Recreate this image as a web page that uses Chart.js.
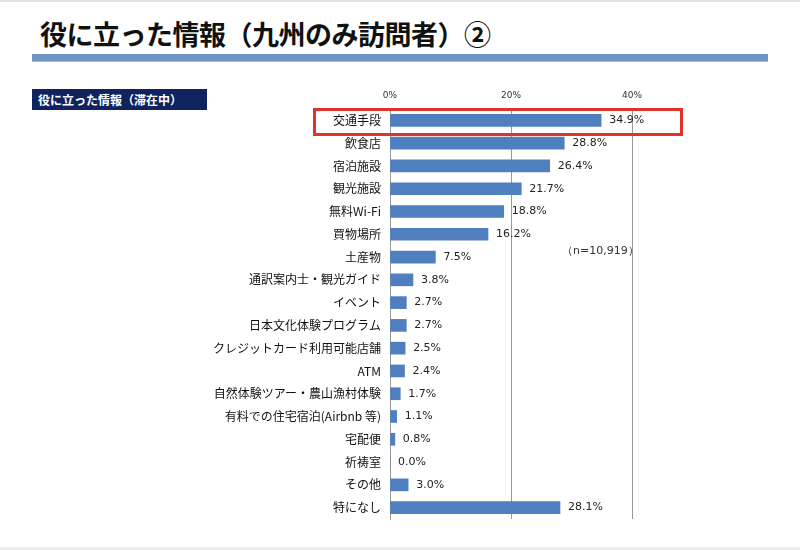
<!DOCTYPE html>
<html>
<head>
<meta charset="utf-8">
<script src="https://cdn.jsdelivr.net/npm/chart.js@4/dist/chart.umd.min.js"></script>
<style>
  body { margin: 0; background: #fff; font-family: "Noto Sans CJK JP", sans-serif; }
  #wrap { position: relative; width: 800px; height: 550px; overflow: hidden; border-top: 2px solid #e4e4e4; box-sizing: border-box; }
  #title { position: absolute; left: 40px; top: 12px; font-size: 27px; font-weight: bold; color: #111; letter-spacing: -0.5px; }
  #band { position: absolute; left: 32px; top: 52px; width: 736px; height: 7px; background: #6f96c8; border-bottom: 1px solid #9fb9db; }
  #sub { position: absolute; left: 32px; top: 87px; width: 175px; height: 21px; background: #10235f; color: #fff; font-size: 12px; font-weight: bold; line-height: 21px; padding-left: 6px; box-sizing: border-box; }
  #hl { position: absolute; left: 313px; top: 106px; width: 370px; height: 28px; border: 3px solid #e0332c; box-sizing: border-box; }
  #note { position: absolute; left: 562px; top: 241px; font-size: 11px; color: #333; font-family: "DejaVu Sans", sans-serif; }
  #foot { position: absolute; left: 0; top: 545px; width: 800px; height: 5px; background: #ececec; }
  canvas { position: absolute; left: 0; top: 0; }
</style>
</head>
<body>
<div id="wrap">
  <div id="title">役に立った情報（九州のみ訪問者）②</div>
  <div id="band"></div>
  <div id="sub">役に立った情報（滞在中）</div>
  <canvas id="myChart" width="800" height="548"></canvas>
  <div id="hl"></div>
  <div id="note">（n=10,919）</div>
  <div id="foot"></div>
</div>
<script>
var categories = ['交通手段', '飲食店', '宿泊施設', '観光施設', '無料Wi-Fi', '買物場所', '土産物',
  '通訳案内士・観光ガイド', 'イベント', '日本文化体験プログラム', 'クレジットカード利用可能店舗', 'ATM',
  '自然体験ツアー・農山漁村体験', '有料での住宅宿泊(Airbnb 等)', '宅配便', '祈祷室', 'その他', '特になし'];
var values = [34.9, 28.8, 26.4, 21.7, 18.8, 16.2, 7.5, 3.8, 2.7, 2.7, 2.5, 2.4, 1.7, 1.1, 0.8, 0.0, 3.0, 28.1];
var tickValues = [0, 20, 40];

var valueLabels = {
  id: 'valueLabels',
  afterDatasetsDraw: function(chart) {
    var ctx = chart.ctx;
    var meta = chart.getDatasetMeta(0);
    ctx.save();
    ctx.font = '11px "DejaVu Sans", sans-serif';
    ctx.fillStyle = '#222';
    ctx.textBaseline = 'middle';
    ctx.textAlign = 'left';
    meta.data.forEach(function(bar, i) {
      ctx.fillText(values[i].toFixed(1) + '%', bar.x + 8, bar.y);
    });
    ctx.restore();
  }
};

var ctx = document.getElementById('myChart');
var myChart = new Chart(ctx, {
  type: 'bar',
  data: {
    labels: categories,
    datasets: [{
      data: values,
      backgroundColor: '#4f7fbf',
      barThickness: 12
    }]
  },
  options: {
    indexAxis: 'y',
    responsive: false,
    animation: false,
    layout: { padding: { left: 0, right: 168, top: 87, bottom: 31 } },
    plugins: { legend: { display: false }, tooltip: { enabled: false } },
    scales: {
      x: {
        position: 'top',
        min: 0,
        max: 40,
        afterFit: function(scale) { scale.height = 20; },
        afterBuildTicks: function(scale) {
          scale.ticks = tickValues.map(function(v) { return { value: v }; });
        },
        grid: { color: '#999', drawTicks: false, lineWidth: 1 },
        border: { display: false },
        ticks: {
          padding: 8,
          color: '#333',
          font: { size: 9, family: '"DejaVu Sans", sans-serif' },
          callback: function(v) { return v + '%'; }
        }
      },
      y: {
        afterFit: function(scale) { scale.width = 390; },
        grid: { display: false, drawTicks: false },
        border: { display: true, color: '#999' },
        ticks: {
          padding: 9,
          color: '#111',
          font: { size: 12, family: '"Noto Sans CJK JP", sans-serif' }
        }
      }
    }
  },
  plugins: [valueLabels]
});
</script>
</body>
</html>
